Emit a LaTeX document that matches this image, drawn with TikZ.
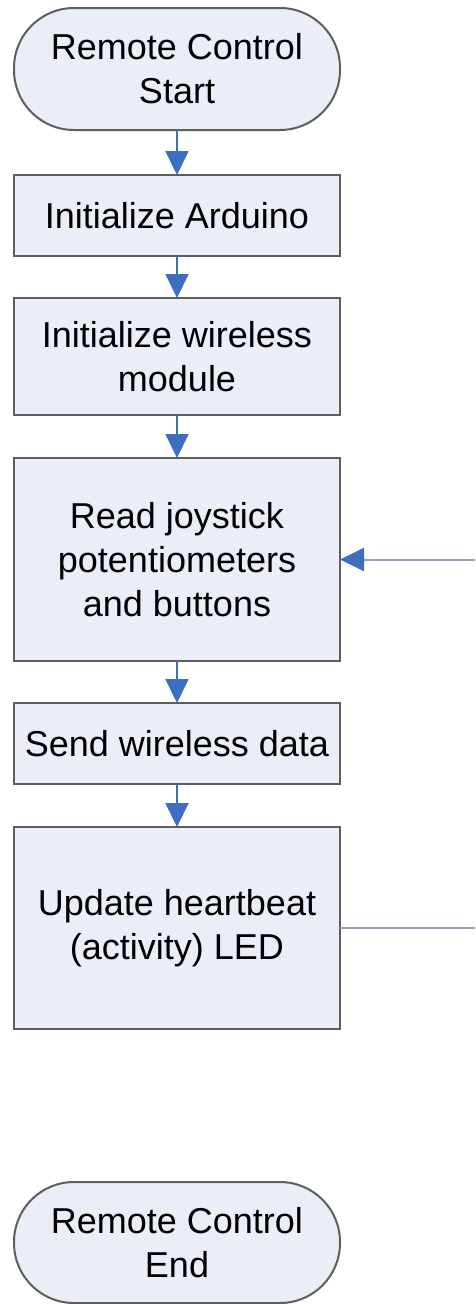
\documentclass[tikz,border=0pt]{standalone}
\usepackage{fontspec}
\setmainfont{Liberation Sans}
\usetikzlibrary{arrows.meta}
\definecolor{boxfill}{HTML}{E9EEF7}
\definecolor{boxdraw}{HTML}{5E5E5E}
\definecolor{arrowblue}{HTML}{3D6EBF}
\definecolor{loopline}{HTML}{8FA3BE}
\tikzset{
  procbox/.style={rectangle, draw=boxdraw, fill=boxfill, line width=2pt,
    minimum width=326pt, inner sep=0pt, outer sep=0pt, align=center,
    font=\fontsize{36}{44}\selectfont},
  termbox/.style={procbox, rounded corners=60pt},
  flowarrow/.style={draw=arrowblue, line width=2pt,
    -{Triangle[width=23pt,length=24pt,color=arrowblue]}},
  loopconn/.style={draw=loopline, line width=2pt,
    -{Triangle[width=23pt,length=24pt,color=arrowblue]}}
}
\begin{document}
\begin{tikzpicture}[x=1pt,y=-1pt]
\useasboundingbox (0,0) rectangle (475,1304);
\clip (0,0) rectangle (475,1304);
\fill[white] (0,0) rectangle (475,1304);
\node[termbox, minimum height=122pt] (start) at (177,69) {Remote Control\\Start};
\node[procbox, minimum height=81pt] (init) at (177,215.5) {Initialize Arduino};
\node[procbox, minimum height=117pt] (wless) at (177,356.5) {Initialize wireless\\module};
\node[procbox, minimum height=203pt] (read) at (177,559.5) {Read joystick\\potentiometers\\and buttons};
\node[procbox, minimum height=81pt] (send) at (177,743.5) {Send wireless data};
\node[procbox, minimum height=202pt] (upd) at (177,928) {Update heartbeat\\(activity) LED};
\node[termbox, minimum height=121pt] (stop) at (177,1242.5) {Remote Control\\End};
\coordinate (lb) at (482,928);
\coordinate (lt) at (482,559.5);
\draw[flowarrow] (start) -- (init);
\draw[flowarrow] (init) -- (wless);
\draw[flowarrow] (wless) -- (read);
\draw[flowarrow] (read) -- (send);
\draw[flowarrow] (send) -- (upd);
\draw[loopconn] (upd.east) -- (lb) -- (lt) -- (read.east);
\end{tikzpicture}
\end{document}
